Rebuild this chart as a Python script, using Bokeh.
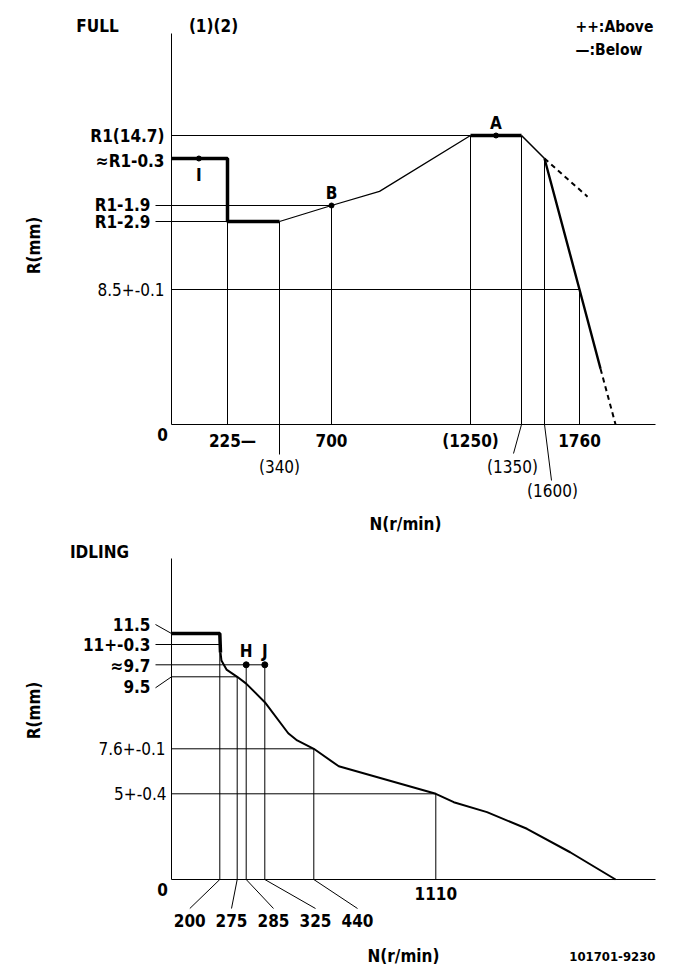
import numpy as np
from bokeh.plotting import figure
from bokeh.models import Range1d
from bokeh.core.properties import value
from bokeh.embed import file_html
from bokeh.resources import INLINE

# ================= DATA : FULL =================
full_thick_N = [0, 225, 225, 340]
full_thick_R = [14.4, 14.4, 11.8, 11.8]
full_rise_N = [340, 700, 890, 1250]
full_rise_R = [11.8, 12.8, 13.28, 14.7]
full_flat_N = [1250, 1350]
full_flat_R = [14.7, 14.7]
full_fall_N = [1350, 1600]
full_fall_R = [14.7, 14.4]
full_drop_N = [1600, 1760, 1857]
full_drop_R = [14.4, 8.5, 3.5]
full_dash_below_N = [1857, 1926]
full_dash_below_R = [3.5, 0.0]
full_dash_above_N = [1600, 1797]
full_dash_above_R = [14.4, 13.1]

full_vline_N = [225, 340, 700, 1250, 1350, 1600, 1760]
full_vline_R = [11.8, 11.8, 12.8, 14.7, 14.7, 14.4, 8.5]
full_hline_R = [14.7, 12.8, 11.8, 8.5]
full_hline_N = [1250, 700, 225, 1760]

full_pt_N = [110, 700, 1300]
full_pt_R = [14.4, 12.8, 14.7]
full_pt_lbl = ["I", "B", "A"]

full_ylab = ["R1(14.7)", "≈R1-0.3", "R1-1.9", "R1-2.9", "8.5+-0.1"]
full_ylab_R = [14.7, 14.4, 12.8, 11.8, 8.5]
full_xlab = ["225—", "(340)", "700", "(1250)", "(1350)", "(1600)", "1760"]
full_xlab_N = [225, 340, 700, 1250, 1350, 1600, 1760]

# ================= DATA : IDLING =================
idle_thick_N = [0, 200, 203]
idle_thick_R = [11.5, 11.5, 10.49]
idle_curve_N = [203, 207, 229, 275, 285, 325, 380, 401, 440, 577,
                1110, 1209, 1392, 1612, 1850, 2100]
idle_curve_R = [10.49, 9.98, 9.62, 9.5, 9.32, 8.83, 8.01, 7.82, 7.6, 6.59,
                5.0, 4.51, 3.93, 2.96, 1.59, 0.0]
idle_vline_N = [200, 275, 285, 325, 440, 1110]
idle_vline_R = [11.0, 9.5, 9.7, 9.7, 7.6, 5.0]
idle_hline_R = [11.0, 9.7, 9.5, 7.6, 5.0]
idle_hline_N = [200, 325, 275, 440, 1110]
idle_pt_N = [285, 325]
idle_pt_R = [9.7, 9.7]
idle_pt_lbl = ["H", "J"]
idle_ylab = ["11.5", "11+-0.3", "≈9.7", "9.5", "7.6+-0.1", "5+-0.4"]
idle_ylab_R = [11.5, 11.0, 9.7, 9.5, 7.6, 5.0]
idle_xlab = ["200", "275", "285", "325", "440", "1110"]
idle_xlab_N = [200, 275, 285, 325, 440, 1110]

# ================= schematic drawing scales (style) =================
FX_N = [0, 225, 340, 700, 1250, 1350, 1600, 1760, 2110]
FX_P = [171, 227, 279, 331, 470, 521, 544, 579, 655]
FY_R = [0, 8.5, 11.8, 12.8, 14.4, 14.7, 17.0]
FY_P = [424, 289, 221, 205, 158, 135, 33]
IX_N = [0, 200, 275, 285, 325, 440, 1110, 2320]
IX_P = [171, 219.3, 236.7, 245.7, 264.3, 313.3, 435.3, 655]
IY_R = [0, 5, 7.6, 9.5, 9.7, 11, 11.5, 15.0]
IY_P = [879, 793.3, 748.3, 676.3, 664.3, 644, 633, 558]

def fx(n): return list(np.interp(n, FX_N, FX_P))
def fy(r): return list(np.interp(r, FY_R, FY_P))
def ix(n): return list(np.interp(n, IX_N, IX_P))
def iy(r): return list(np.interp(r, IY_R, IY_P))

FONT = value("DejaVu Sans Condensed")
BLACK = "#000000"

p = figure(width=681, height=979, x_range=Range1d(0, 681), y_range=Range1d(979, 0),
           x_axis_type=None, y_axis_type=None, toolbar_location=None,
           output_backend="svg", min_border=0, outline_line_color=None)
p.grid.visible = False
p.background_fill_color = "white"
p.border_fill_color = "white"

def txt(xs, ys, texts, size="17px", align="center", base="middle", style="bold", angle=0):
    p.text(x=xs, y=ys, text=texts, text_font=FONT, text_font_size=size,
           text_align=align, text_baseline=base, text_font_style=style,
           text_color=BLACK, angle=angle)

def seg(x0, y0, x1, y1, w=1):
    p.segment(x0=x0, y0=y0, x1=x1, y1=y1, line_color=BLACK, line_width=w)

# ------------------ FULL chart ------------------
zero_fx, zero_fy = fx([0])[0], fy([0])[0]
seg([zero_fx, zero_fx], [fy([0])[0], zero_fy], [zero_fx, fx([2110])[0]], [fy([17.0])[0], zero_fy])
seg(fx(full_vline_N), [zero_fy]*len(full_vline_N), fx(full_vline_N), fy(full_vline_R))
seg([zero_fx]*len(full_hline_R), fy(full_hline_R), fx(full_hline_N), fy(full_hline_R))
seg([155, 155], fy([12.8, 11.8]), [zero_fx, zero_fx], fy([12.8, 11.8]))
lx = fx([340, 1350, 1600])
seg(lx, [zero_fy]*3, [lx[0], lx[1] - 8, lx[2] + 7], [zero_fy + 30, zero_fy + 29, zero_fy + 56])
p.line(fx(full_thick_N), fy(full_thick_R), line_color=BLACK, line_width=3.5)
p.line(fx(full_rise_N), fy(full_rise_R), line_color=BLACK, line_width=1.3)
p.line(fx(full_flat_N), fy(full_flat_R), line_color=BLACK, line_width=3.5)
p.line(fx(full_fall_N), fy(full_fall_R), line_color=BLACK, line_width=1.6)
p.line(fx(full_drop_N), fy(full_drop_R), line_color=BLACK, line_width=2.4)
p.line(fx(full_dash_below_N), fy(full_dash_below_R), line_color=BLACK, line_width=2, line_dash="5 4")
p.line(fx(full_dash_above_N), fy(full_dash_above_R), line_color=BLACK, line_width=2, line_dash="5 4")
p.scatter(fx(full_pt_N), fy(full_pt_R), size=5, color=BLACK)
px_ = fx(full_pt_N)
py_ = fy(full_pt_R)
txt([px_[0], px_[1], px_[2]], [py_[0] + 16, py_[1] - 13, py_[2] - 13], full_pt_lbl)

fyl = fy(full_ylab_R)
txt([164, 164], [fyl[0], fyl[1] + 2], full_ylab[0:2], align="right")
txt([150, 150], [fyl[2] - 1, fyl[3]], full_ylab[2:4], align="right")
txt([164], [fyl[4]], full_ylab[4:5], align="right", style="normal")
txt([162], [zero_fy + 10], ["0"])
fxl = fx(full_xlab_N)
txt([fxl[0] + 5, fxl[2], fxl[3], fxl[6]], [zero_fy + 16] * 4,
    [full_xlab[0], full_xlab[2], full_xlab[3], full_xlab[6]])
txt([fxl[1], fxl[4] - 9, fxl[5] + 8], [zero_fy + 42, zero_fy + 42, zero_fy + 66],
    [full_xlab[1], full_xlab[4], full_xlab[5]], style="normal")
txt([97, 213], [25, 25], ["FULL", "(1)(2)"])
txt([575, 575], [26, 49], ["++:Above", "—:Below"], align="left", size="15.5px")
txt([33], [245], ["R(mm)"], angle=np.pi / 2)
txt([405], [523], ["N(r/min)"])

# ------------------ IDLING chart ------------------
zero_ix, zero_iy = ix([0])[0], iy([0])[0]
seg([zero_ix, zero_ix], [zero_iy, zero_iy], [zero_ix, ix([2320])[0]], [iy([15.0])[0], zero_iy])
seg(ix(idle_vline_N), [zero_iy]*len(idle_vline_N), ix(idle_vline_N), iy(idle_vline_R))
seg([zero_ix]*len(idle_hline_R), iy(idle_hline_R), ix(idle_hline_N), iy(idle_hline_R))
iyl = iy(idle_ylab_R)
seg([155, 155, 155, 155], [iyl[0] - 9, iyl[1], iyl[2], iyl[3] + 11],
    [zero_ix]*4, [iyl[0], iyl[1], iyl[2], iyl[3]])
ixl = ix(idle_xlab_N)
lab_x = [189.3, 231, 273, 315, 357]
seg(ixl[:5], [zero_iy]*5, lab_x, [zero_iy + 29]*5)
p.line(ix(idle_thick_N), iy(idle_thick_R), line_color=BLACK, line_width=3.5)
p.line(ix(idle_curve_N), iy(idle_curve_R), line_color=BLACK, line_width=2)
p.scatter(ix(idle_pt_N), iy(idle_pt_R), size=6, color=BLACK)
ipx = ix(idle_pt_N)
txt(ipx, [iy([9.7])[0] - 14] * 2, idle_pt_lbl)
txt([150] * 4, [iyl[0] - 9, iyl[1], iyl[2] + 1, iyl[3] + 10], idle_ylab[0:4], align="right")
txt([165, 166], [iyl[4], iyl[5]], idle_ylab[4:6], align="right", style="normal")
txt([162], [zero_iy + 10], ["0"])
txt(lab_x, [zero_iy + 41] * 5, idle_xlab[:5])
txt([ixl[5]], [zero_iy + 14], idle_xlab[5:6])
txt([99], [551], ["IDLING"])
txt([33], [710], ["R(mm)"], angle=np.pi / 2)
txt([403], [955], ["N(r/min)"])
txt([655], [956], ["101701-9230"], align="right", size="13px")

open("out.html", "w").write(file_html(p, INLINE))
